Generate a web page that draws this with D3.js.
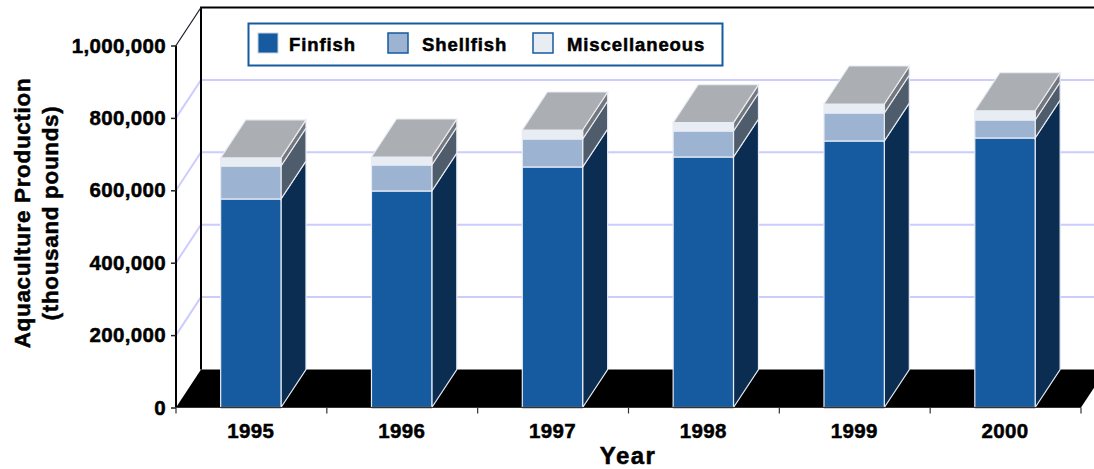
<!DOCTYPE html>
<html>
<head>
<meta charset="utf-8">
<script src="https://cdn.jsdelivr.net/npm/d3@7"></script>
<style>
  html, body { margin: 0; background: #fff; }
  svg { display: block; }
  text { font-family: "Liberation Sans", sans-serif; font-weight: bold; fill: #000; stroke: #000; stroke-width: 0.5px; }
  .domain { display: none; }
</style>
</head>
<body>
<div id="chart"></div>
<script>
var years = ["1995", "1996", "1997", "1998", "1999", "2000"];
var finfish = [576000, 598100, 664400, 692000, 736200, 744500];
var shellfish = [91100, 71800, 77300, 71800, 77400, 49700];
var misc = [22400, 22100, 24900, 23000, 24800, 25500];
var yTicks = [0, 200000, 400000, 600000, 800000, 1000000];
var seriesNames = ["Finfish", "Shellfish", "Miscellaneous"];
var frontColors = ["#165a9f", "#9db3d2", "#e8edf4"];
var sideColors = ["#0c2d52", "#4f5c6c", "#74777b"];
var topColor = "#abaeb2";

var width = 1094, height = 469;
var plotL = 176, plotR = 1081, plotB = 407.5, plotT = 45.5;
var dx = 25, dy = -38;

var svg = d3.select("#chart").append("svg")
    .attr("width", width)
    .attr("height", height);

var x = d3.scaleBand().domain(years).range([plotL - 0.6, plotR - 0.6])
    .paddingInner(0.6).paddingOuter(0.3);
var y = d3.scaleLinear().domain([0, 1000000]).range([plotB, plotT]);

var step = x.step();

// gridlines on side wall + back wall
var grid = svg.append("g");
grid.selectAll("path")
  .data(yTicks.slice(1, -1))
  .enter().append("path")
    .attr("fill", "none")
    .attr("stroke", "#ccccff")
    .attr("stroke-width", 2)
    .attr("d", function(d) {
      return "M" + plotL + "," + y(d) + "L" + (plotL + dx) + "," + (y(d) + dy) + "L" + width + "," + (y(d) + dy);
    });

// floor
svg.append("path")
    .attr("fill", "#000")
    .attr("d", "M" + plotL + "," + plotB + "L" + (plotL + dx) + "," + (plotB + dy) +
      "L" + (plotR + dx) + "," + (plotB + dy) + "L" + plotR + "," + plotB + "Z");

// walls
svg.append("path")
    .attr("fill", "none")
    .attr("stroke", "#000")
    .attr("stroke-width", 2)
    .attr("d", "M" + (plotL + dx) + "," + (plotB + dy) + "L" + (plotL + dx) + "," + (plotT + dy) + "L" + width + "," + (plotT + dy));
svg.append("path")
    .attr("fill", "none")
    .attr("stroke", "#1a1a2a")
    .attr("stroke-width", 1.2)
    .attr("d", "M" + plotL + "," + plotT + "L" + (plotL + dx) + "," + (plotT + dy));
svg.append("path")
    .attr("fill", "none")
    .attr("stroke", "#000")
    .attr("stroke-width", 2)
    .attr("d", "M" + plotL + "," + plotT + "L" + plotL + "," + plotB);

// bars
var layers = [finfish, shellfish, misc];
var bars = svg.selectAll(".bar")
  .data(years)
  .enter().append("g")
    .attr("class", "bar");

bars.each(function(year, i) {
  var g = d3.select(this);
  var x0 = x(year), x1 = x0 + x.bandwidth();
  var base = 0;
  layers.forEach(function(layer, s) {
    var y0 = y(base), y1 = y(base + layer[i]);
    g.append("path")
        .attr("fill", sideColors[s])
        .attr("stroke", "#e8ecf4")
        .attr("stroke-width", 1.2)
        .attr("d", "M" + x1 + "," + y0 + "L" + (x1 + dx) + "," + (y0 + dy) + "L" + (x1 + dx) + "," + (y1 + dy) + "L" + x1 + "," + y1 + "Z");
    g.append("rect")
        .attr("x", x0)
        .attr("y", y1)
        .attr("width", x.bandwidth())
        .attr("height", y0 - y1)
        .attr("fill", frontColors[s])
        .attr("stroke", "#e8ecf4")
        .attr("stroke-width", 1.2);
    base += layer[i];
  });
  var yt = y(base);
  g.append("path")
      .attr("fill", topColor)
      .attr("stroke", "#e8ecf4")
      .attr("stroke-width", 1.2)
      .attr("d", "M" + x0 + "," + yt + "L" + (x0 + dx) + "," + (yt + dy) + "L" + (x1 + dx) + "," + (yt + dy) + "L" + x1 + "," + yt + "Z");
  g.append("line")
      .attr("x1", x0).attr("x2", x1)
      .attr("y1", plotB).attr("y2", plotB)
      .attr("stroke", "#444").attr("stroke-width", 1.5);
});

// y axis
var yAxis = svg.append("g")
    .attr("transform", "translate(" + plotL + ",0)")
    .call(d3.axisLeft(y).tickValues(yTicks).tickSize(5).tickPadding(5).tickFormat(d3.format(",")));
yAxis.selectAll("text").style("font-size", "20.5px").style("font-family", null).style("letter-spacing", "0.35px");
yAxis.selectAll("line").attr("stroke", "#222").attr("stroke-width", 1.5);

// x axis
var xTicks = d3.range(years.length + 1).map(function(i) { return plotL + i * step; });
svg.append("g").selectAll("line")
  .data(xTicks)
  .enter().append("line")
    .attr("x1", function(d) { return d; })
    .attr("x2", function(d) { return d; })
    .attr("y1", plotB)
    .attr("y2", plotB + 6)
    .attr("stroke", "#333")
    .attr("stroke-width", 1.2);
svg.append("line")
    .attr("x1", plotL).attr("x2", plotR)
    .attr("y1", plotB).attr("y2", plotB)
    .attr("stroke", "#333");

svg.append("g").selectAll("text")
  .data(years)
  .enter().append("text")
    .attr("x", function(d) { return x(d) + x.bandwidth() / 2; })
    .attr("y", 438)
    .attr("text-anchor", "middle")
    .style("font-size", "20.5px")
    .style("letter-spacing", "0.35px")
    .text(function(d) { return d; });

svg.append("text")
    .attr("x", 628)
    .attr("y", 464)
    .attr("text-anchor", "middle")
    .style("font-size", "24px")
    .style("letter-spacing", "1.4px")
    .text("Year");

var yTitle = svg.append("g").attr("transform", "translate(30,213) rotate(-90)");
yTitle.append("text")
    .attr("text-anchor", "middle")
    .style("font-size", "22.5px")
    .style("letter-spacing", "0.65px")
    .text("Aquaculture Production");
yTitle.append("text")
    .attr("y", 28)
    .attr("text-anchor", "middle")
    .style("font-size", "22.5px")
    .style("letter-spacing", "0.65px")
    .text("(thousand pounds)");

// legend
svg.append("rect")
    .attr("x", 248.5).attr("y", 23.5)
    .attr("width", 474).attr("height", 42)
    .attr("fill", "#fff")
    .attr("stroke", "#165a9f")
    .attr("stroke-width", 2);
var legendX = d3.scaleOrdinal().domain(seriesNames).range([258, 388, 533]);
var legend = svg.selectAll(".legend")
  .data(seriesNames)
  .enter().append("g")
    .attr("class", "legend")
    .attr("transform", function(d) { return "translate(" + legendX(d) + ",33)"; });
legend.append("rect")
    .attr("width", 20)
    .attr("height", 20)
    .attr("fill", function(d, i) { return frontColors[i]; })
    .attr("stroke", function(d, i) { return i === 0 ? "#c5d3e6" : "#165a9f"; })
    .attr("stroke-width", function(d, i) { return i === 0 ? 1 : 1.5; });
legend.append("text")
    .attr("x", function(d, i) { return i === 0 ? 31 : 34; })
    .attr("y", 17.5)
    .style("font-size", "18.5px")
    .style("letter-spacing", "0.9px")
    .text(function(d) { return d; });
</script>
</body>
</html>
